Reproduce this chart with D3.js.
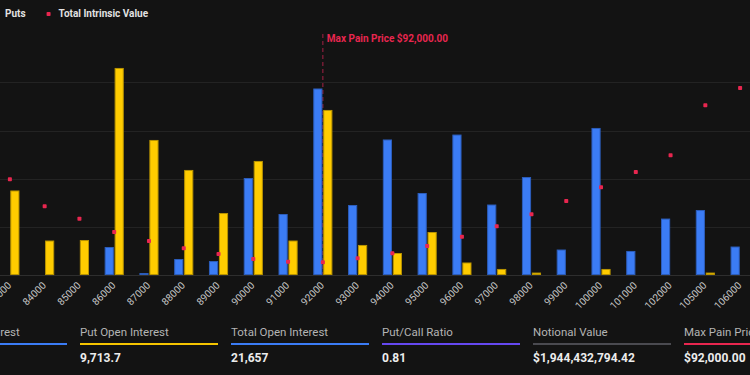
<!DOCTYPE html>
<html>
<head>
<meta charset="utf-8">
<script src="https://cdn.jsdelivr.net/npm/d3@7"></script>
<style>
  html, body { margin: 0; padding: 0; background: #131313; }
  body { width: 750px; height: 375px; overflow: hidden; font-family: Roboto, "Noto Sans", sans-serif; }
</style>
</head>
<body>
<div id="chart"></div>
<script>
// strikes shown on the x axis
var strikes = ["83000","84000","85000","86000","87000","88000","89000","90000","91000","92000","93000",
               "94000","95000","96000","97000","98000","99000","100000","101000","102000","105000","106000"];

// open interest per strike
var callsOI = [0, 0, 0, 225, 8, 125, 108, 800, 500, 1546, 575, 1121, 675, 1162, 579, 808, 204, 1217, 192, 462, 533, 229];
var putsOI  = [696, 279, 283, 1717, 1117, 867, 508, 942, 279, 1367, 242, 175, 350, 96, 42, 12, 0, 42, 0, 0, 12, 0];

// total intrinsic value, millions USD
var intrinsic = [158.7, 113.7, 93, 70.8, 55.8, 43.7, 34.2, 25.8, 21.3, 20.3, 27, 35.3, 47.5, 63, 80.3, 100.3,
                 122.5, 145.3, 170.8, 198.7, 282, 310.8];

var maxPain = "92000";
var gridTicks = [400, 800, 1200, 1600];

var statLabels = ["Call Open Interest", "Put Open Interest", "Total Open Interest", "Put/Call Ratio", "Notional Value", "Max Pain Price"];
var statValues = ["11,943.3", "9,713.7", "21,657", "0.81", "$1,944,432,794.42", "$92,000.00"];
var statColors = ["#3b7cf5", "#f5c400", "#3b7cf5", "#6548f0", "#4a4a50", "#e8264f"];

var legendLabels = ["Calls", "Puts", "Total Intrinsic Value"];
var legendColors = ["#3b7cf5", "#ffcc00", "#e8264f"];

var W = 750, H = 375;
var svg = d3.select("#chart").append("svg")
    .attr("width", W)
    .attr("height", H);

svg.append("rect").attr("width", W).attr("height", H).attr("fill", "#131313");

// scales (the plot area runs a little past the window on both sides)
var x = d3.scaleBand()
    .domain(strikes)
    .range([-7.5, 757.5])
    .paddingInner(0.45)
    .paddingOuter(0.225);

var x1 = d3.scaleBand()
    .domain(["calls", "puts"])
    .range([0, x.bandwidth()])
    .paddingInner(0.08);

var y = d3.scaleLinear().domain([0, 2000]).range([274.5, 34.5]);
var y2 = d3.scaleLinear().domain([0, 400]).range([274.5, 34.5]);

// grid
svg.append("g")
    .selectAll("line")
    .data(gridTicks)
    .enter().append("line")
    .attr("x1", 0).attr("x2", W)
    .attr("y1", d => Math.round(y(d)) + 0.5)
    .attr("y2", d => Math.round(y(d)) + 0.5)
    .attr("stroke", "#232323");

// max pain marker (behind the bars)
var mpX = x(maxPain) + x.bandwidth() / 2;
svg.append("line")
    .attr("x1", mpX).attr("x2", mpX)
    .attr("y1", 34).attr("y2", y(0))
    .attr("stroke", "#8c1f3d")
    .attr("stroke-width", 1.2)
    .attr("stroke-dasharray", "4,3");

// bars
var series = [
    {key: "calls", values: callsOI, fill: "#3b7cf5", stroke: "#2c5dbb"},
    {key: "puts", values: putsOI, fill: "#ffcc00", stroke: "#b89300"}
];

series.forEach(function(s) {
    var rows = s.values.map((v, i) => ({strike: strikes[i], v: v})).filter(d => d.v > 0);
    svg.append("g")
        .selectAll("rect")
        .data(rows)
        .enter().append("rect")
        .attr("x", d => x(d.strike) + x1(s.key) + 0.5)
        .attr("y", d => y(d.v))
        .attr("width", x1.bandwidth() - 1)
        .attr("height", d => y(0) - y(d.v))
        .attr("fill", s.fill)
        .attr("stroke", s.stroke)
        .attr("stroke-width", 1);
});

// baseline
svg.append("line")
    .attr("x1", 0).attr("x2", W)
    .attr("y1", 275.5).attr("y2", 275.5)
    .attr("stroke", "#2e2e2e");

// intrinsic value dots
svg.append("g")
    .selectAll("rect")
    .data(intrinsic)
    .enter().append("rect")
    .attr("x", (d, i) => x(strikes[i]) + x.bandwidth() / 2 - 2)
    .attr("y", d => y2(d) - 2)
    .attr("width", 4).attr("height", 4)
    .attr("rx", 0.8)
    .attr("fill", "#e8264f");

svg.append("text")
    .attr("x", mpX + 4)
    .attr("y", 42)
    .attr("fill", "#e8264f")
    .attr("font-size", "10px")
    .attr("font-weight", 700)
    .text("Max Pain Price $92,000.00");

// x axis
var xAxis = svg.append("g")
    .attr("transform", "translate(0,276)")
    .call(d3.axisBottom(x).tickSize(0).tickPadding(0));
xAxis.select(".domain").remove();
xAxis.selectAll("text")
    .attr("fill", "#c8c8c8")
    .attr("font-size", "10px")
    .attr("font-family", "Roboto, sans-serif")
    .attr("text-anchor", "end")
    .attr("dy", null)
    .attr("transform", "translate(2,10) rotate(-45)");

// legend (first item falls off the left edge; "Puts" text starts at x=5)
var legend = svg.append("g");
var lx = 0, putsTextX = 0;
legendLabels.forEach(function(label, i) {
    var g = legend.append("g");
    g.append("rect")
        .attr("x", lx).attr("y", -5)
        .attr("width", 4).attr("height", 4).attr("rx", 0.8)
        .attr("fill", legendColors[i]);
    var t = g.append("text")
        .attr("x", lx + 12)
        .attr("y", 0)
        .attr("fill", "#e2e2e2")
        .attr("font-size", "10px")
        .attr("font-weight", 700)
        .text(label);
    if (label === "Puts") putsTextX = lx + 12;
    lx += 12 + t.node().getComputedTextLength() + 21;
});
legend.attr("transform", "translate(" + (5 - putsTextX) + ",17)");

// stats row
var statStep = 151, statW = 138, statX0 = -71;
var stats = svg.append("g");
statLabels.forEach(function(label, i) {
    var sx = statX0 + i * statStep;
    stats.append("text")
        .attr("x", sx).attr("y", 335.5)
        .attr("fill", "#b4b4b4")
        .attr("font-size", "11.5px")
        .text(label);
    stats.append("rect")
        .attr("x", sx).attr("y", 343)
        .attr("width", statW).attr("height", 2)
        .attr("fill", statColors[i]);
    stats.append("text")
        .attr("x", sx).attr("y", 361.5)
        .attr("fill", "#ececec")
        .attr("font-size", "12px")
        .attr("font-weight", 700)
        .text(statValues[i]);
});
</script>
</body>
</html>
